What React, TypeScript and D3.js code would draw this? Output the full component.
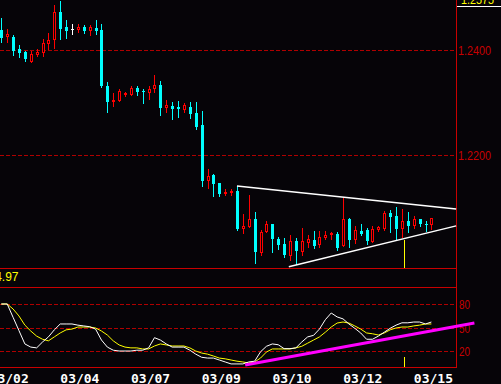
import React from "react";
import * as d3 from "d3";

const W = 501;
const H = 384;

const opens = [
  1.2438, 1.2425, 1.2425, 1.2402, 1.2396, 1.2377, 1.239, 1.2394, 1.2411, 1.2419,
  1.2472, 1.2444, 1.244, 1.2438, 1.2444, 1.2436, 1.2442, 1.2438, 1.2331, 1.2303,
  1.2303, 1.2314, 1.2314, 1.2328, 1.2322, 1.2318, 1.2326, 1.2333, 1.229, 1.2293,
  1.2291, 1.2286, 1.2291, 1.228, 1.2257, 1.215, 1.2162, 1.2147, 1.2128, 1.2128,
  1.2131, 1.2059, 1.2063, 1.2078, 1.2013, 1.2053, 1.2069, 1.204, 1.203, 1.2008,
  1.2036, 1.2015, 1.2032, 1.2038, 1.2029, 1.2042, 1.2048, 1.205, 1.2027, 1.2078,
  1.2038, 1.2055, 1.2057, 1.2034, 1.2057, 1.2059, 1.209, 1.2084, 1.2059, 1.2074,
  1.2065, 1.2078, 1.2069, 1.2067,
];
const highs = [
  1.2461, 1.244, 1.2429, 1.241, 1.2398, 1.2398, 1.2402, 1.2421, 1.2432, 1.2486,
  1.2493, 1.2457, 1.245, 1.245, 1.2448, 1.2448, 1.2457, 1.245, 1.2339, 1.2318,
  1.2326, 1.232, 1.2331, 1.2331, 1.2326, 1.2331, 1.2352, 1.2341, 1.2305, 1.2301,
  1.2303, 1.2299, 1.2301, 1.2301, 1.2284, 1.2173, 1.2164, 1.2147, 1.2135, 1.2135,
  1.2141, 1.2088, 1.2124, 1.2091, 1.2057, 1.2074, 1.2069, 1.2044, 1.2042, 1.2048,
  1.2042, 1.2061, 1.2048, 1.2055, 1.2055, 1.2055, 1.2053, 1.2053, 1.212, 1.208,
  1.2065, 1.2069, 1.2061, 1.2065, 1.2065, 1.2093, 1.2095, 1.2101, 1.2097, 1.2091,
  1.2084, 1.2078, 1.2074, 1.208,
];
const lows = [
  1.2415, 1.2413, 1.239, 1.2387, 1.2379, 1.2376, 1.2387, 1.2387, 1.24, 1.2402,
  1.2421, 1.2423, 1.243, 1.2432, 1.2432, 1.2427, 1.243, 1.233, 1.2282, 1.2291,
  1.2301, 1.231, 1.2312, 1.2314, 1.2299, 1.2305, 1.2318, 1.2276, 1.228, 1.2269,
  1.2272, 1.228, 1.227, 1.225, 1.2141, 1.2135, 1.2122, 1.2122, 1.2122, 1.2122,
  1.2057, 1.205, 1.2061, 1.1994, 1.2008, 1.2051, 1.2015, 1.2021, 1.2006, 1.1998,
  1.1992, 1.2008, 1.2023, 1.2023, 1.2023, 1.2038, 1.2038, 1.2019, 1.2025, 1.2025,
  1.203, 1.2048, 1.203, 1.2032, 1.2053, 1.2055, 1.2053, 1.204, 1.2042, 1.2053,
  1.2059, 1.2065, 1.2055, 1.2057,
];
const closes = [
  1.2423, 1.243, 1.2398, 1.2394, 1.2383, 1.2392, 1.2396, 1.2413, 1.2419, 1.2472,
  1.244, 1.2436, 1.244, 1.2444, 1.2436, 1.2444, 1.2436, 1.2331, 1.2301, 1.2305,
  1.2322, 1.2318, 1.2328, 1.232, 1.232, 1.2326, 1.2333, 1.229, 1.2295, 1.2288,
  1.2288, 1.2295, 1.2278, 1.2253, 1.215, 1.216, 1.2145, 1.2126, 1.213, 1.2131,
  1.2059, 1.2065, 1.2078, 1.2015, 1.2053, 1.2069, 1.204, 1.2029, 1.201, 1.2036,
  1.2017, 1.2036, 1.204, 1.2027, 1.2044, 1.2048, 1.2051, 1.2023, 1.2078, 1.2038,
  1.2057, 1.205, 1.2036, 1.2059, 1.2063, 1.209, 1.2082, 1.2059, 1.2074, 1.2065,
  1.2078, 1.2069, 1.2067, 1.208,
];

// Oscillator: fast (white) and slow (yellow)
const fastLine = [
  80, 80, 63, 46, 29, 25, 24, 31.5, 38, 47,
  54.5, 54.5, 54.5, 53, 52, 51, 48, 34, 25, 21,
  20, 20, 20, 21, 21, 24, 37, 34, 29, 25,
  25, 25, 21, 16, 12, 11, 11, 8.5, 6, 3.5,
  3.5, 3.5, 6, 7, 19, 26, 29, 28, 23, 23,
  24, 31.5, 38, 40, 48, 60, 68.5, 63.5, 61, 54.5,
  49, 43, 35, 35, 39, 44, 49, 53, 56, 56,
  57, 57, 54.5, 57,
];
const slowLine = [
  80, 80, 73.6, 64.7, 53, 45.5, 39, 35, 33, 38,
  43, 47, 48, 50.6, 50.6, 50.6, 49.4, 45.5, 40.4, 33,
  27.7, 25, 24, 24, 22.6, 22.6, 26.4, 29, 27.7, 26.4,
  26.4, 26.4, 24, 20, 17.4, 16, 13.6, 11, 10, 8.5,
  7, 6, 4.7, 6, 11, 18.7, 22.6, 22.6, 22.6, 22.6,
  24, 26, 30, 34, 38, 44, 50.6, 55.7, 57, 55.7,
  52, 48, 43, 42, 40.4, 43, 47, 49.4, 50.6, 50.6,
  52, 53, 54.5, 54.5,
];

const dateLabels = ["03/02", "03/04", "03/07", "03/09", "03/10", "03/12", "03/15"];
const dateIndex = [1, 13, 25, 37, 49, 61, 73];

const priceTicks = [1.24, 1.22];
const priceTickLabels = ["1.2400", "1.2200"];
const oscTicks = [80, 50, 20];
const oscTickLabels = ["80", "50", "20"];

// trend lines: [candle index, value]
const upperTrend: [number, number][] = [[40, 1.2141], [77.2, 1.2097]];
const lowerTrend: [number, number][] = [[48.8, 1.1987], [77.2, 1.2065]];
const oscTrend: [number, number][] = [[41.4, 2], [80.3, 55.7]];
const markerIndex = 68.4;
const markerPriceTop = 1.2038;
const topPriceLabel = "1.2575";
const oscValueLabel = "54.97";

const BG = "#060408";
const GRID = "#b00000";
const AXIS = "#c80000";
const UP = "#ff0000";
const DOWN = "#00ffff";

export default function App() {
  const plotRight = 456;
  const x = d3.scaleLinear().domain([0, 73]).range([1.3, 431.4]);
  const yP = d3.scaleLinear().domain([1.22, 1.24]).range([155, 50]);
  const yI = d3.scaleLinear().domain([20, 80]).range([351, 304]);
  const priceBottom = 268;
  const sepLine = 287;
  const oscBottom = 367;

  const lineI = d3
    .line<number>()
    .x((_, i) => x(i))
    .y((d) => yI(d));

  const candles = opens.map((o, i) => {
    const c = closes[i];
    const h = highs[i];
    const l = lows[i];
    const cx = Math.round(x(i));
    const top = Math.round(yP(Math.max(o, c)));
    const bot = Math.max(top + 1, Math.round(yP(Math.min(o, c))));
    const yh = Math.round(yP(h));
    const yl = Math.round(yP(l));
    if (c > o) {
      return (
        <g key={i}>
          {yh < top && <line x1={cx + 0.5} x2={cx + 0.5} y1={yh} y2={top} stroke={UP} />}
          {yl > bot && <line x1={cx + 0.5} x2={cx + 0.5} y1={bot} y2={yl} stroke={UP} />}
          <rect x={cx - 0.5} y={top + 0.5} width={2} height={Math.max(bot - top - 1, 0.5)} fill={BG} stroke={UP} />
        </g>
      );
    }
    const col = c < o ? DOWN : "#ffffff";
    return (
      <g key={i}>
        <line x1={cx + 0.5} x2={cx + 0.5} y1={yh} y2={yl + 1} stroke={col} />
        <rect x={cx - 1} y={top} width={3} height={Math.max(bot - top, 1)} fill={col} />
      </g>
    );
  });

  const trendPath = (pts: [number, number][], ys: (v: number) => number) =>
    d3.line<[number, number]>().x((d) => x(d[0])).y((d) => ys(d[1]))(pts) || "";

  return (
    <svg
      width={W}
      height={H}
      style={{ position: "fixed", left: 0, top: 0, display: "block" }}
      shapeRendering="crispEdges"
    >
      <rect x={0} y={0} width={W} height={H} fill={BG} />

      {/* price grid */}
      {priceTicks.map((t, i) => (
        <g key={"pg" + i}>
          <line x1={0} x2={plotRight} y1={Math.round(yP(t)) + 0.5} y2={Math.round(yP(t)) + 0.5} stroke={GRID} strokeDasharray="4,2" />
          <text x={458} y={Math.round(yP(t)) + 5} fill={AXIS} fontFamily="'Liberation Sans Narrow', 'Liberation Sans', sans-serif" fontSize={13} textLength={33} lengthAdjust="spacingAndGlyphs">
            {priceTickLabels[i]}
          </text>
        </g>
      ))}

      {/* osc grid */}
      {oscTicks.map((t, i) => (
        <g key={"og" + i}>
          <line x1={0} x2={plotRight} y1={Math.round(yI(t)) + 0.5} y2={Math.round(yI(t)) + 0.5} stroke={GRID} strokeDasharray="4,2" />
          <text x={459} y={Math.round(yI(t)) + 5} fill={AXIS} fontFamily="'Liberation Sans Narrow', 'Liberation Sans', sans-serif" fontSize={13} textLength={11} lengthAdjust="spacingAndGlyphs">
            {oscTickLabels[i]}
          </text>
        </g>
      ))}

      {/* panel frame */}
      <line x1={0} x2={plotRight} y1={priceBottom + 0.5} y2={priceBottom + 0.5} stroke={AXIS} />
      <line x1={0} x2={plotRight} y1={sepLine + 0.5} y2={sepLine + 0.5} stroke={AXIS} />
      <line x1={0} x2={plotRight} y1={oscBottom + 0.5} y2={oscBottom + 0.5} stroke={AXIS} />
      <line x1={plotRight + 0.5} x2={plotRight + 0.5} y1={0} y2={oscBottom + 1} stroke={AXIS} />

      {/* top-right price marker */}
      <line x1={plotRight + 1} x2={W} y1={6.5} y2={6.5} stroke="#ffffff" />
      <text x={461} y={4} fill="#ffff00" fontFamily="'Liberation Sans Narrow', 'Liberation Sans', sans-serif" fontSize={13} textLength={33} lengthAdjust="spacingAndGlyphs">
        {topPriceLabel}
      </text>

      {/* candles */}
      {candles}

      {/* triangle trend lines */}
      <g shapeRendering="auto">
        <path d={trendPath(upperTrend, yP)} stroke="#ffffff" strokeWidth={1.5} fill="none" />
        <path d={trendPath(lowerTrend, yP)} stroke="#ffffff" strokeWidth={1.5} fill="none" />
      </g>

      {/* yellow marker */}
      <line x1={Math.round(x(markerIndex)) + 0.5} x2={Math.round(x(markerIndex)) + 0.5} y1={Math.round(yP(markerPriceTop))} y2={priceBottom} stroke="#ffff00" strokeWidth={1.5} />
      <line x1={Math.round(x(markerIndex)) + 0.5} x2={Math.round(x(markerIndex)) + 0.5} y1={357} y2={oscBottom} stroke="#ffff00" strokeWidth={1.5} />

      {/* oscillator value label */}
      <text x={18.5} y={281} textAnchor="end" fill="#ffff00" fontFamily="'Liberation Sans Narrow', 'Liberation Sans', sans-serif" fontSize={12}>
        {oscValueLabel}
      </text>

      {/* oscillator lines */}
      <g shapeRendering="auto">
        <path d={lineI(slowLine) || ""} stroke="#ffff00" strokeWidth={1} fill="none" />
        <path d={lineI(fastLine) || ""} stroke="#ffffff" strokeWidth={1} fill="none" />
        <path d={trendPath(oscTrend, yI)} stroke="#ff00ff" strokeWidth={3} fill="none" />
      </g>

      {/* date labels */}
      {dateLabels.map((d, i) => (
        <text key={d} x={x(dateIndex[i]) + 2} y={383} textAnchor="middle" fill="#ffffff" fontFamily="'DejaVu Sans Mono', monospace" fontWeight="bold" fontSize={13}>
          {d}
        </text>
      ))}
    </svg>
  );
}
